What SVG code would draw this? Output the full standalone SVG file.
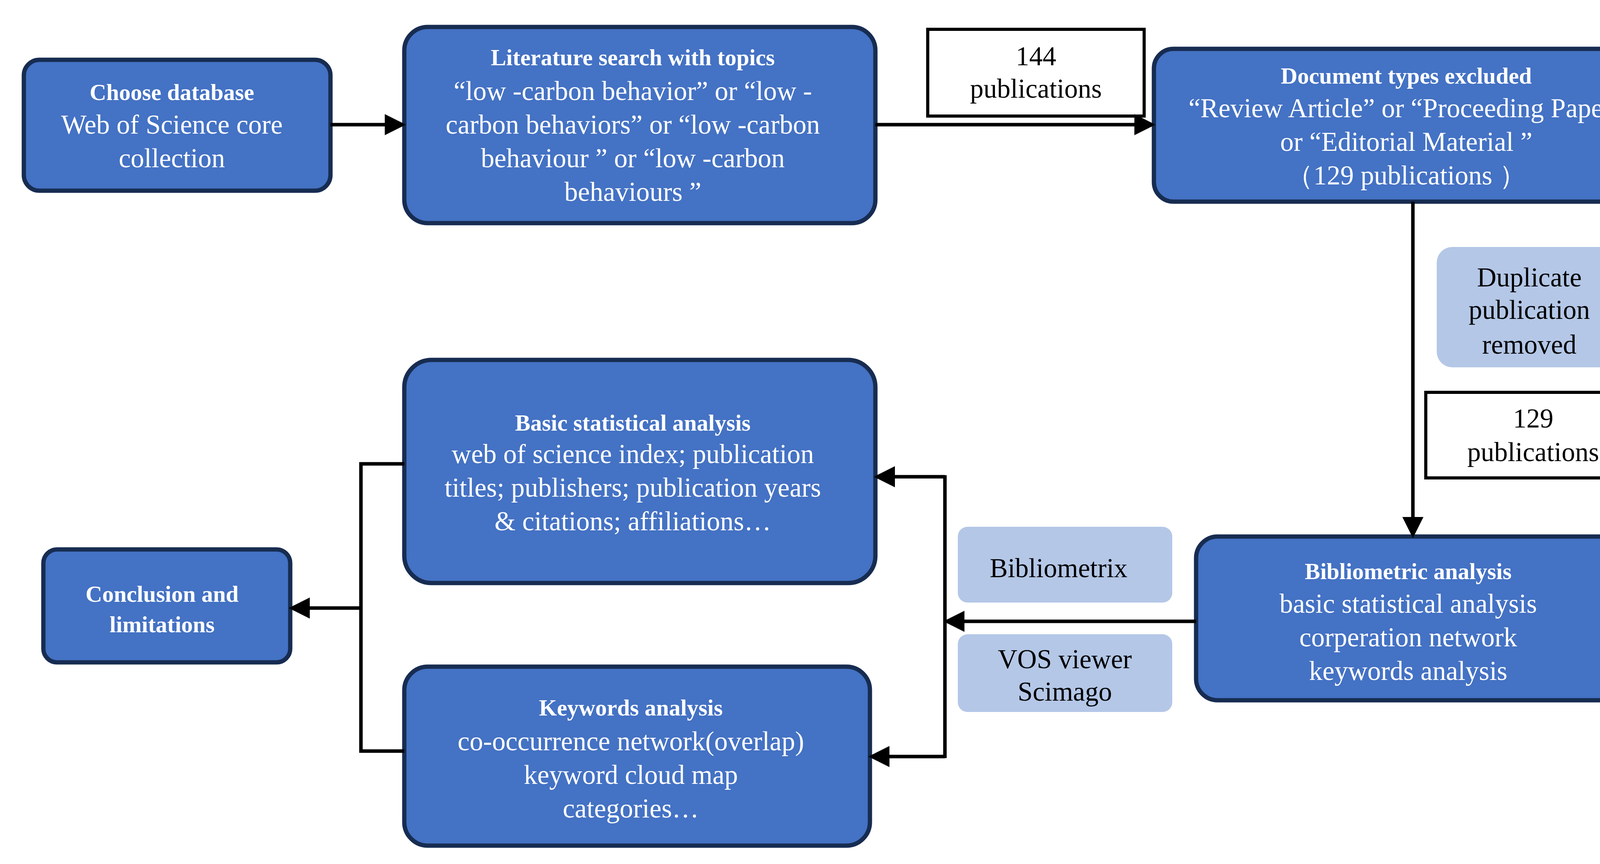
<svg xmlns="http://www.w3.org/2000/svg" width="4327" height="2211" viewBox="0 0 4327 2211">
<style>
.n{fill:#4472C4;stroke:#172C51;stroke-width:11}
.l{fill:#B4C7E7;stroke:none}
.w{fill:#fff;stroke:#000;stroke-width:8}
text{font-family:"Liberation Serif",serif;font-size:69px;text-anchor:middle;dominant-baseline:central}
.t{fill:#fff}
.b{font-weight:bold;font-size:59px}
.k{fill:#000}
.c{fill:none;stroke:#000;stroke-width:9}
</style>
<defs><marker id="a" markerWidth="6" markerHeight="6" refX="5" refY="3" orient="auto" markerUnits="strokeWidth"><path d="M0,0L6,3L0,6z" fill="#000"/></marker></defs>
<g id="choose"><rect class="n" x="61" y="153" width="785" height="335" rx="40"/>
<text class="t b" x="440" y="236">Choose database</text><text class="t" x="440" y="319">Web of Science core</text><text class="t" x="440" y="405">collection</text></g>
<g id="search"><rect class="n" x="1035" y="69" width="1206" height="502" rx="60"/>
<text class="t b" x="1620" y="147">Literature search with topics</text>
<text class="t" x="1620" y="233">“low -carbon behavior” or “low  -</text>
<text class="t" x="1620" y="319">carbon behaviors” or “low  -carbon</text>
<text class="t" x="1620" y="405">behaviour ” or “low -carbon</text>
<text class="t" x="1620" y="491">behaviours ”</text></g>
<g id="p144"><rect class="w" x="2375" y="75" width="554" height="222"/>
<text class="k" x="2652" y="144">144</text><text class="k" x="2652" y="227">publications</text></g>
<g id="doctypes"><rect class="n" x="2954" y="125" width="1306" height="391" rx="50"/>
<text class="t b" x="3600" y="194">Document types excluded</text>
<text class="t" x="3600" y="277">“Review Article” or “Proceeding Paper”</text>
<text class="t" x="3600" y="363">or “Editorial Material  ”</text>
<text class="t" x="3600" y="449">（129 publications  ）</text></g>
<g id="dup"><rect class="l" x="3678" y="632" width="494" height="308" rx="40"/>
<text class="k" x="3915" y="710">Duplicate</text><text class="k" x="3915" y="793">publication</text><text class="k" x="3915" y="882">removed</text></g>
<g id="p129"><rect class="w" x="3650" y="1004" width="558" height="219"/>
<text class="k" x="3925" y="1071">129</text><text class="k" x="3925" y="1157">publications</text></g>
<g id="biblio"><rect class="n" x="3062" y="1373" width="1115" height="419" rx="55"/>
<text class="t b" x="3605" y="1462">Bibliometric analysis</text>
<text class="t" x="3605" y="1545">basic statistical analysis</text>
<text class="t" x="3605" y="1631">corperation  network</text>
<text class="t" x="3605" y="1717">keywords analysis</text></g>
<g id="bibliometrix"><rect class="l" x="2452" y="1348" width="549" height="194" rx="25"/>
<text class="k" x="2710" y="1454">Bibliometrix</text></g>
<g id="vos"><rect class="l" x="2452" y="1623" width="549" height="199" rx="25"/>
<text class="k" x="2726" y="1687">VOS viewer</text><text class="k" x="2726" y="1770">Scimago</text></g>
<g id="basic"><rect class="n" x="1035" y="921" width="1206" height="571" rx="70"/>
<text class="t b" x="1620" y="1082">Basic statistical analysis</text>
<text class="t" x="1620" y="1162">web of science index;  publication</text>
<text class="t" x="1620" y="1248">titles; publishers;  publication years</text>
<text class="t" x="1620" y="1334">&amp; citations;  affiliations…</text></g>
<g id="keywords"><rect class="n" x="1035" y="1706" width="1192" height="458" rx="60"/>
<text class="t b" x="1615" y="1811">Keywords analysis</text>
<text class="t" x="1615" y="1897">co-occurrence network(overlap)</text>
<text class="t" x="1615" y="1983">keyword cloud map</text>
<text class="t" x="1615" y="2069">categories…</text></g>
<g id="conclusion"><rect class="n" x="111" y="1406" width="632" height="289" rx="35"/>
<text class="t b" x="415" y="1520">Conclusion and</text><text class="t b" x="415" y="1598">limitations</text></g>
<g id="connectors">
<line class="c" x1="846" y1="319" x2="1030" y2="319" marker-end="url(#a)"/>
<line class="c" x1="2241" y1="319" x2="2949" y2="319" marker-end="url(#a)"/>
<line class="c" x1="3617" y1="516" x2="3617" y2="1368" marker-end="url(#a)"/>
<line class="c" x1="3062" y1="1590" x2="2424" y2="1590" marker-end="url(#a)"/>
<polyline class="c" points="2419,1216 2419,1940"/>
<line class="c" x1="2419" y1="1220" x2="2246" y2="1220" marker-end="url(#a)"/>
<line class="c" x1="2419" y1="1936" x2="2232" y2="1936" marker-end="url(#a)"/>
<polyline class="c" points="1035,1187 924,1187 924,1922 1035,1922"/>
<line class="c" x1="924" y1="1556" x2="748" y2="1556" marker-end="url(#a)"/>
</g>
</svg>
